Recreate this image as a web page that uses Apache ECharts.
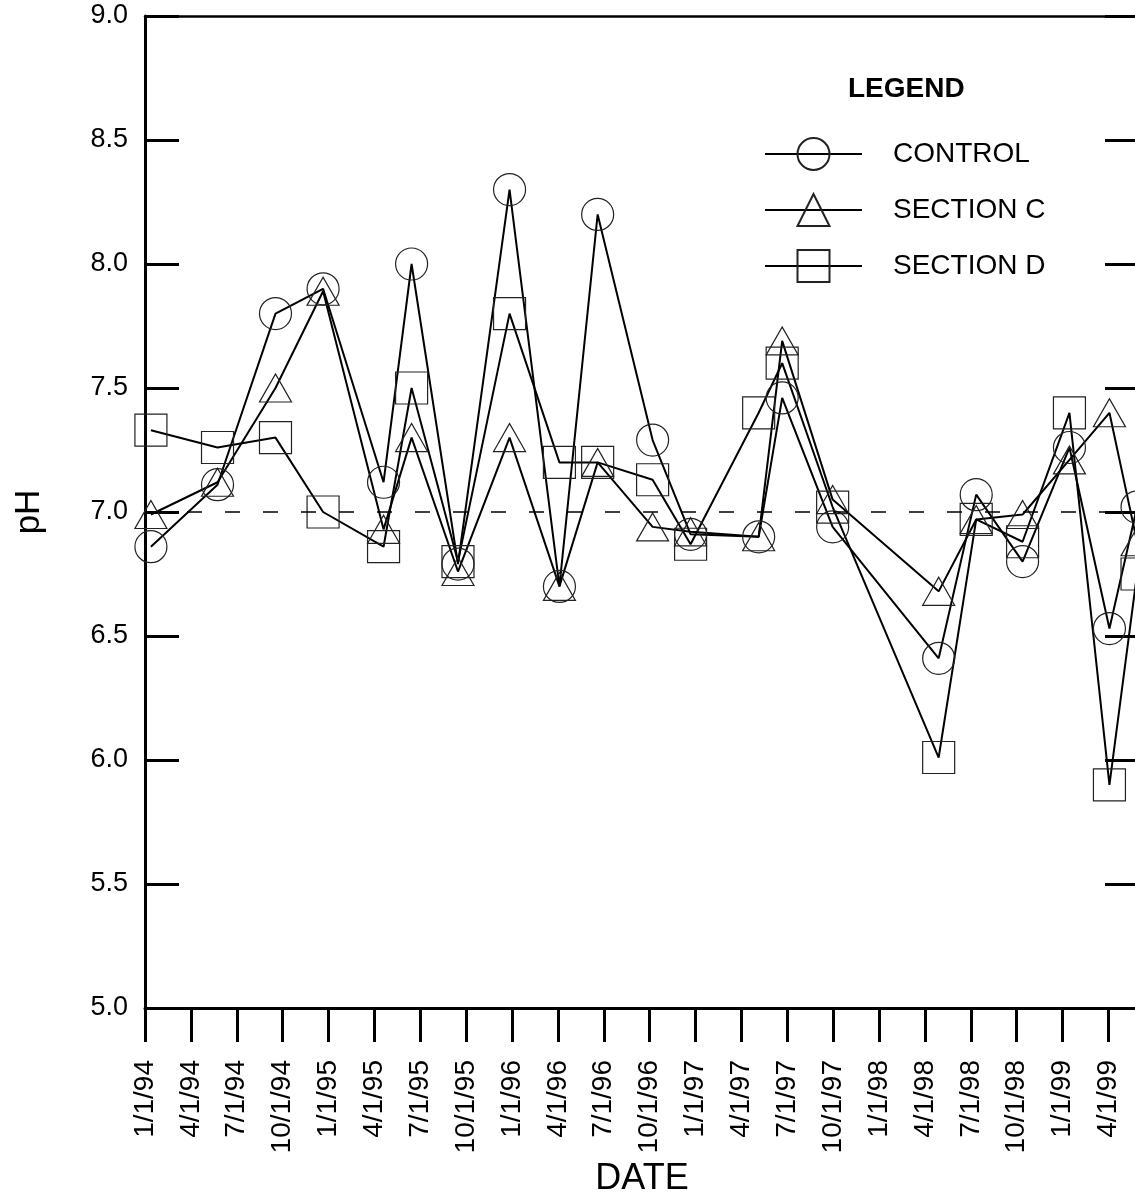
<!DOCTYPE html>
<html>
<head>
<meta charset="utf-8">
<script src="https://cdn.jsdelivr.net/npm/echarts@6/dist/echarts.min.js"></script>
<style>
html,body{margin:0;padding:0;background:#fff;}
#chart{width:1135px;height:1193px;}
</style>
</head>
<body>
<div id="chart"></div>
<script>
// Sampling dates
const sampleDates = ['1994-01-13','1994-05-24','1994-09-17','1994-12-21','1995-04-19','1995-06-14','1995-09-15','1995-12-27','1996-04-04','1996-06-19','1996-10-07','1996-12-22','1997-05-05','1997-06-21','1997-09-30','1998-04-28','1998-07-12','1998-10-13','1999-01-15','1999-04-03','1999-05-28'];
// pH values
const controlPH  = [6.86, 7.11, 7.80, 7.90, 7.12, 8.00, 6.79, 8.30, 6.70, 8.20, 7.29, 6.91, 6.90, 7.46, 6.94, 6.41, 7.07, 6.80, 7.26, 6.53, 7.02];
const sectionCPH = [6.99, 7.12, 7.50, 7.89, 6.93, 7.30, 6.76, 7.30, 6.70, 7.20, 6.94, 6.92, 6.90, 7.69, 7.05, 6.68, 6.97, 6.99, 7.21, 7.40, 6.88];
const sectionDPH = [7.33, 7.26, 7.30, 7.00, 6.86, 7.50, 6.80, 7.80, 7.20, 7.20, 7.13, 6.87, 7.40, 7.60, 7.02, 6.01, 6.97, 6.88, 7.40, 5.90, 6.75];
// X tick labels (quarterly, starting 1/1/94)
const dateTickLabels = ['1/1/94','4/1/94','7/1/94','10/1/94','1/1/95','4/1/95','7/1/95','10/1/95','1/1/96','4/1/96','7/1/96','10/1/96','1/1/97','4/1/97','7/1/97','10/1/97','1/1/98','4/1/98','7/1/98','10/1/98','1/1/99','4/1/99'];
const seriesNames = ['CONTROL','SECTION C','SECTION D'];
const neutralPH = 7.0;

// months since 1/1/94
function monthsSince(d) {
  const [y, m, day] = d.split('-').map(Number);
  const dim = new Date(y, m, 0).getDate();
  return (y - 1994) * 12 + (m - 1) + (day - 1) / dim;
}
const xs = sampleDates.map(monthsSince);
const pairs = vals => vals.map((v, i) => [xs[i], v]);

const FONT = "'Liberation Sans', Arial, sans-serif";
const chart = echarts.init(document.getElementById('chart'), null, {renderer: 'canvas'});

const markerStyle = {color: 'rgba(0,0,0,0)', borderColor: '#222', borderWidth: 1.2};
const lineStyle = {color: '#000', width: 2};

function mkSeries(name, vals, symbol, size, extra) {
  return Object.assign({
    name: name,
    type: 'line',
    data: pairs(vals),
    symbol: symbol,
    symbolSize: size,
    showAllSymbol: true,
    itemStyle: markerStyle,
    lineStyle: lineStyle,
    emphasis: {disabled: true},
    z: 3
  }, extra || {});
}

chart.setOption({
  animation: false,
  backgroundColor: '#fff',
  grid: {left: 145, right: -4, top: 16, bottom: 185, containLabel: false, outerBoundsMode: 'none'},
  title: {
    text: 'LEGEND', left: 848, top: 75, padding: 0,
    textStyle: {fontFamily: FONT, fontSize: 28, fontWeight: 'bold', color: '#000'}
  },
  legend: {
    orient: 'vertical', left: 764, top: 137, padding: 0,
    itemWidth: 97, itemHeight: 40, itemGap: 22,
    data: seriesNames,
    textStyle: {fontFamily: FONT, fontSize: 28, color: '#000', padding: [0, 0, 0, 26]},
    selectedMode: false
  },
  xAxis: [{
    type: 'value', position: 'bottom', min: 0, max: 65, interval: 3,
    name: 'DATE', nameLocation: 'middle', nameGap: 142,
    nameTextStyle: {fontFamily: FONT, fontSize: 36, color: '#000'},
    axisLine: {show: true, onZero: false, lineStyle: {color: '#000', width: 3}},
    axisTick: {show: true, inside: false, length: 34, lineStyle: {color: '#000', width: 3}},
    axisLabel: {
      rotate: 90, margin: 52, fontFamily: FONT, fontSize: 28, color: '#000',
      showMinLabel: true, showMaxLabel: true,
      formatter: v => (Math.abs(v / 3 - Math.round(v / 3)) < 1e-6 && dateTickLabels[Math.round(v / 3)]) || ''
    },
    splitLine: {show: false}
  }, {
    type: 'value', position: 'top', min: 0, max: 65, interval: 3,
    axisLine: {show: true, onZero: false, lineStyle: {color: '#000', width: 2.5}},
    axisTick: {show: false}, axisLabel: {show: false}, splitLine: {show: false}
  }],
  yAxis: [{
    type: 'value', position: 'left', min: 5, max: 9, interval: 0.5,
    name: 'pH', nameLocation: 'middle', nameGap: 98,
    nameTextStyle: {fontFamily: FONT, fontSize: 35, color: '#000'},
    axisLine: {show: true, onZero: false, lineStyle: {color: '#000', width: 3}},
    axisTick: {show: true, inside: true, length: 34, lineStyle: {color: '#000', width: 3}},
    axisLabel: {margin: 17, fontFamily: FONT, fontSize: 27, color: '#000', formatter: v => v.toFixed(1)},
    splitLine: {show: false}
  }, {
    type: 'value', position: 'right', min: 5, max: 9, interval: 0.5,
    axisLine: {show: true, onZero: false, lineStyle: {color: '#000', width: 3}},
    axisTick: {show: true, inside: true, length: 34, lineStyle: {color: '#000', width: 3}},
    axisLabel: {show: false}, splitLine: {show: false}
  }],
  series: [
    mkSeries(seriesNames[0], controlPH, 'circle', 32, {
      markLine: {
        silent: true, symbol: ['none', 'none'], label: {show: false},
        lineStyle: {color: '#000', width: 1.6, type: [15, 23], dashOffset: -4},
        data: [{yAxis: neutralPH}]
      }
    }),
    mkSeries(seriesNames[1], sectionCPH, 'triangle', [32, 28]),
    mkSeries(seriesNames[2], sectionDPH, 'rect', 32)
  ]
});
</script>
</body>
</html>
